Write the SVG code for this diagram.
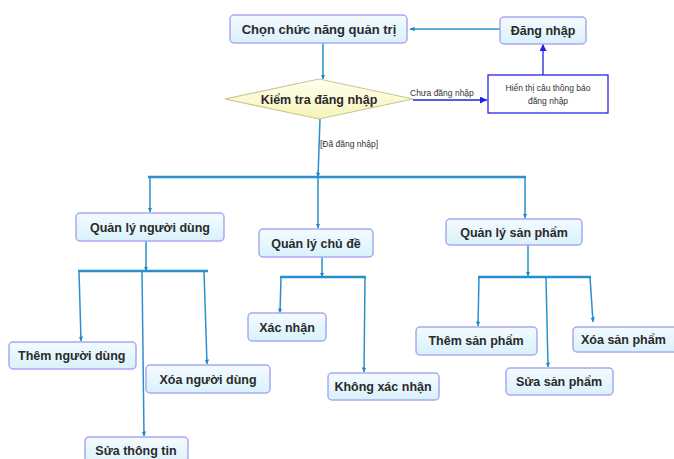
<svg xmlns="http://www.w3.org/2000/svg" width="674" height="459" viewBox="0 0 674 459">
  <defs>
    <linearGradient id="boxFill" x1="0" y1="0" x2="0" y2="1">
      <stop offset="0" stop-color="#f4fbff"/>
      <stop offset="1" stop-color="#d9f1fb"/>
    </linearGradient>
    <linearGradient id="diaFill" x1="0" y1="0" x2="0" y2="1">
      <stop offset="0" stop-color="#fffff0"/>
      <stop offset="1" stop-color="#f7f3b8"/>
    </linearGradient>
    <marker id="arr" viewBox="0 0 10 10" refX="10" refY="5" markerWidth="4.5" markerHeight="6" orient="auto-start-reverse" markerUnits="userSpaceOnUse">
      <path d="M0,0 L10,5 L0,10 z" fill="#1f86c8"/>
    </marker>
    <marker id="arrB" viewBox="0 0 10 10" refX="10" refY="5" markerWidth="9" markerHeight="7" orient="auto" markerUnits="userSpaceOnUse">
      <path d="M0,0 L10,5 L0,10 z" fill="#2020e0"/>
    </marker>
  </defs>
  <style>
    .box { fill: url(#boxFill); stroke: #a9a9f2; stroke-width: 1.5; }
    .lbl { font-family: "Liberation Sans", Arial, sans-serif; font-size: 12.5px; font-weight: bold; fill: #2a2a2a; text-anchor: middle; }
    .lbl.start { text-anchor: start; }
    .small { font-family: "Liberation Sans", Arial, sans-serif; font-size: 8.5px; fill: #333; }
    .small.mid { text-anchor: middle; }
    .ln { fill: none; stroke: #2b8fcf; stroke-width: 1.5; }
    .bar { fill: none; stroke: #2b8fcf; stroke-width: 2.5; }
    .lnB { fill: none; stroke: #2020e0; stroke-width: 1.3; }
  </style>

  <rect width="674" height="459" fill="#ffffff"/>

  <!-- connectors -->
  <g id="connectors">
    <path class="ln" d="M500,29 L410,29" marker-end="url(#arr)"/>
    <path class="ln" d="M323,43 L323,79" marker-end="url(#arr)"/>
    <path class="lnB" d="M413,100 L487,100" marker-end="url(#arrB)"/>
    <path class="lnB" d="M543,75 L543,44" marker-end="url(#arrB)"/>
    <text class="small" x="410" y="96">Chưa đăng nhập</text>
    <path class="ln" d="M320,119 L318,177" marker-end="url(#arr)"/>
    <text class="small" x="320" y="147">[Đã đăng nhập]</text>

    <path class="bar" d="M148,177 L526,177"/>
    <path class="ln" d="M150,177 L150,212" marker-end="url(#arr)"/>
    <path class="ln" d="M318,177 L318,228" marker-end="url(#arr)"/>
    <path class="ln" d="M525,177 L525,218" marker-end="url(#arr)"/>

    <!-- Quản lý người dùng -->
    <path class="ln" d="M146,241 L146,271" marker-end="url(#arr)"/>
    <path class="bar" d="M78,271 L208,271"/>
    <path class="ln" d="M79,271 L81,341" marker-end="url(#arr)"/>
    <path class="ln" d="M142,271 L144,436" marker-end="url(#arr)"/>
    <path class="ln" d="M204,271 L207,364" marker-end="url(#arr)"/>

    <!-- Quản lý chủ đề -->
    <path class="ln" d="M322,257 L322,277" marker-end="url(#arr)"/>
    <path class="bar" d="M280,277 L366,277"/>
    <path class="ln" d="M281,277 L280,313" marker-end="url(#arr)"/>
    <path class="ln" d="M365,277 L364,372" marker-end="url(#arr)"/>

    <!-- Quản lý sản phẩm -->
    <path class="ln" d="M528,245 L528,276" marker-end="url(#arr)"/>
    <path class="bar" d="M478,277 L591,277"/>
    <path class="ln" d="M479,277 L478,326" marker-end="url(#arr)"/>
    <path class="ln" d="M546,277 L548,367" marker-end="url(#arr)"/>
    <path class="ln" d="M590,277 L593,322" marker-end="url(#arr)"/>
  </g>

  <!-- nodes -->
  <g id="n-chon">
    <rect class="box" x="230" y="15" width="177" height="28" rx="4"/>
    <text class="lbl" x="319" y="34" style="font-size:13px">Chọn chức năng quản trị</text>
  </g>
  <g id="n-dangnhap">
    <rect class="box" x="500" y="17" width="86" height="27" rx="4"/>
    <text class="lbl" x="543" y="35">Đăng nhập</text>
  </g>
  <g id="n-kiemtra">
    <polygon points="225,99 319,79 413,99 319,119" fill="url(#diaFill)" stroke="#c9c68c" stroke-width="1.2"/>
    <text class="lbl" x="319" y="104">Kiểm tra đăng nhập</text>
  </g>
  <g id="n-hienthi">
    <rect x="488" y="75" width="120" height="38" fill="#ffffff" stroke="#2525e6" stroke-width="1.3"/>
    <text class="small mid" x="548" y="91">Hiển thị câu thông báo</text>
    <text class="small mid" x="548" y="104">đăng nhập</text>
  </g>
  <g id="n-qlnd">
    <rect class="box" x="76" y="213" width="148" height="28" rx="4"/>
    <text class="lbl" x="150" y="232">Quản lý người dùng</text>
  </g>
  <g id="n-qlcd">
    <rect class="box" x="259" y="229" width="114" height="28" rx="4"/>
    <text class="lbl" x="316" y="248">Quản lý chủ đề</text>
  </g>
  <g id="n-qlsp">
    <rect class="box" x="446" y="219" width="136" height="26" rx="4"/>
    <text class="lbl" x="514" y="237">Quản lý sản phẩm</text>
  </g>
  <g id="n-themnd">
    <rect class="box" x="9" y="342" width="127" height="27" rx="4"/>
    <text class="lbl start" x="18" y="360">Thêm người dùng</text>
  </g>
  <g id="n-xoand">
    <rect class="box" x="146" y="365" width="124" height="28" rx="4"/>
    <text class="lbl" x="208" y="384">Xóa người dùng</text>
  </g>
  <g id="n-suatt">
    <rect class="box" x="85" y="437" width="103" height="30" rx="4"/>
    <text class="lbl" x="136" y="455">Sửa thông tin</text>
  </g>
  <g id="n-xacnhan">
    <rect class="box" x="248" y="313" width="78" height="28" rx="4"/>
    <text class="lbl" x="287" y="332">Xác nhận</text>
  </g>
  <g id="n-khongxn">
    <rect class="box" x="328" y="373" width="111" height="27" rx="4"/>
    <text class="lbl" x="383" y="391">Không xác nhận</text>
  </g>
  <g id="n-themsp">
    <rect class="box" x="416" y="327" width="121" height="28" rx="4"/>
    <text class="lbl" x="476" y="345">Thêm sản phẩm</text>
  </g>
  <g id="n-suasp">
    <rect class="box" x="506" y="368" width="107" height="27" rx="4"/>
    <text class="lbl" x="559" y="386">Sửa sản phẩm</text>
  </g>
  <g id="n-xoasp">
    <rect class="box" x="573" y="327" width="110" height="25" rx="4"/>
    <text class="lbl start" x="581" y="344">Xóa sản phẩm</text>
  </g>
</svg>
